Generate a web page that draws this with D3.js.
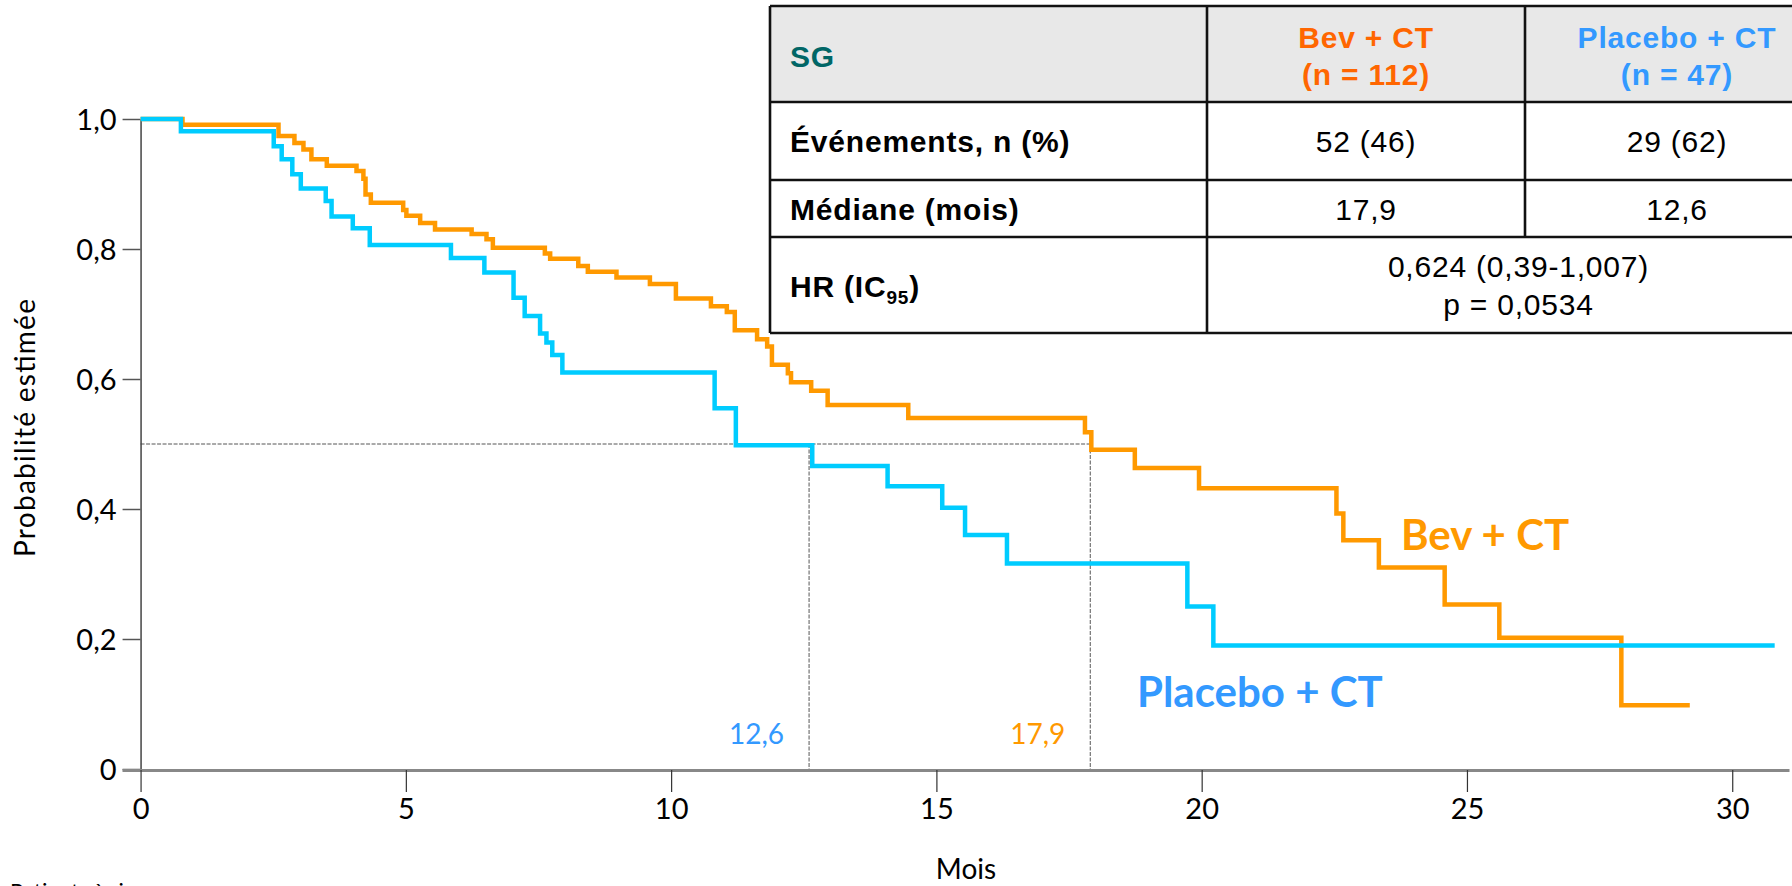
<!DOCTYPE html>
<html>
<head>
<meta charset="utf-8">
<script src="https://cdn.jsdelivr.net/npm/d3@7"></script>
<style>
  html, body { margin: 0; padding: 0; background: #fff; }
  svg { display: block; }
  .tick text { font-family: Lato, "Open Sans", sans-serif; font-size: 29px; fill: #000; }
  .tbl text { font-family: "Liberation Sans", Arial, sans-serif; font-size: 30px; letter-spacing: 0.8px; }
</style>
</head>
<body>
<svg id="chart" width="1792" height="886"></svg>
<script>
// Kaplan-Meier steps (time in months, survival probability)
const bevTimes = [0, 0.79, 2.60, 2.90, 3.07, 3.22, 3.51, 4.07, 4.20, 4.24, 4.34, 4.95, 5.01, 5.27, 5.55,
  6.24, 6.52, 6.64, 7.62, 7.72, 8.25, 8.43, 8.97, 9.60, 10.09, 10.75, 11.05, 11.20, 11.62, 11.81,
  11.90, 12.20, 12.26, 12.64, 12.95, 14.47, 17.80, 17.92, 18.74, 19.95, 22.54, 22.67, 23.34, 24.58,
  25.61, 27.91, 29.20];
const bevSurv = [1.0, 0.991, 0.974, 0.963, 0.953, 0.938, 0.928, 0.920, 0.908, 0.884, 0.871, 0.860, 0.851, 0.840, 0.830,
  0.823, 0.815, 0.802, 0.793, 0.785, 0.774, 0.765, 0.756, 0.746, 0.724, 0.712, 0.703, 0.675, 0.661, 0.650,
  0.622, 0.609, 0.595, 0.582, 0.560, 0.540, 0.518, 0.491, 0.463, 0.432, 0.393, 0.352, 0.310, 0.253,
  0.202, 0.098, 0.098];

const pboTimes = [0, 0.76, 2.51, 2.66, 2.86, 3.02, 3.49, 3.60, 4.00, 4.32, 5.85, 6.48, 7.03, 7.24, 7.53,
  7.65, 7.76, 7.95, 10.82, 11.22, 12.66, 14.08, 15.11, 15.54, 16.33, 19.73, 20.22, 30.80];
const pboSurv = [1.0, 0.981, 0.958, 0.938, 0.915, 0.893, 0.874, 0.850, 0.832, 0.806, 0.786, 0.764, 0.725, 0.697, 0.670,
  0.656, 0.637, 0.610, 0.555, 0.498, 0.466, 0.435, 0.402, 0.360, 0.316, 0.250, 0.190, 0.190];

const xTicks = [0, 5, 10, 15, 20, 25, 30];
const yTicks = [0, 0.2, 0.4, 0.6, 0.8, 1.0];
const medians = [12.6, 17.9];          // placebo, bev
const medianLabels = ["12,6", "17,9"];

const groupNames = ["Bev + CT", "Placebo + CT"];
const groupN = ["(n = 112)", "(n = 47)"];
const rowLabels = ["Événements, n (%)", "Médiane (mois)"];
const eventsCol = ["52 (46)", "29 (62)"];
const medianCol = ["17,9", "12,6"];
const hrLines = ["0,624 (0,39-1,007)", "p = 0,0534"];

const ORANGE = '#ff9900';
const CYAN = '#00ccff';
const LBLUE = '#3399ff';
const HEAD_ORANGE = '#ff6600';

const svg = d3.select('#chart');
svg.append('rect').attr('width', 1792).attr('height', 886).attr('fill', '#fff');

const x = d3.scaleLinear().domain([-0.35, 31.07]).range([122, 1789]);
const y = d3.scaleLinear().domain([0, 1]).range([769, 119]);

const fmt = d => d === 0 ? '0' : d.toFixed(1).replace('.', ',');

// median guide lines
const guides = svg.append('g').attr('stroke', '#555').attr('stroke-width', 1).attr('stroke-dasharray', '4,1.5').attr('fill', 'none');
guides.append('line')
  .attr('x1', x(0)).attr('x2', x(d3.max(medians)))
  .attr('y1', y(0.5)).attr('y2', y(0.5));
guides.selectAll('line.v').data(medians).join('line')
  .attr('class', 'v')
  .attr('x1', d => x(d)).attr('x2', d => x(d))
  .attr('y1', y(0.5)).attr('y2', y(0));

svg.append('g').selectAll('text').data(medians).join('text')
  .attr('x', d => x(d) - 25).attr('y', 744)
  .attr('text-anchor', 'end')
  .attr('font-family', 'Lato, "Open Sans", sans-serif')
  .attr('font-size', 28)
  .attr('fill', (d, i) => i === 0 ? LBLUE : ORANGE)
  .text((d, i) => medianLabels[i]);

// y axis
const yAxis = svg.append('g')
  .attr('transform', `translate(${x(0)},0)`)
  .call(d3.axisLeft(y).tickValues(yTicks).tickFormat(fmt).tickSize(18).tickPadding(6).tickSizeOuter(0));
yAxis.select('.domain').attr('stroke', '#444').attr('stroke-width', 1.5);
yAxis.selectAll('.tick line').attr('stroke', '#555').attr('stroke-width', 1.5);
yAxis.selectAll('.tick text').attr('dy', '0.36em');

// x axis
const xAxis = svg.append('g')
  .attr('transform', `translate(0,${y(0) + 1})`)
  .call(d3.axisBottom(x).tickValues(xTicks).tickSize(22).tickPadding(6).tickSizeOuter(0));
xAxis.select('.domain').attr('stroke', '#888').attr('stroke-width', 3);
xAxis.selectAll('.tick line').attr('stroke', '#333').attr('stroke-width', 1.2);

svg.append('text')
  .attr('x', 966).attr('y', 879)
  .attr('text-anchor', 'middle')
  .attr('font-family', 'Lato, "Open Sans", sans-serif')
  .attr('font-size', 28)
  .text('Mois');

svg.append('text')
  .attr('transform', 'translate(35,428) rotate(-90)')
  .attr('text-anchor', 'middle')
  .attr('font-family', 'Lato, "Open Sans", sans-serif')
  .attr('font-size', 28)
  .attr('textLength', 258)
  .attr('lengthAdjust', 'spacing')
  .text('Probabilité estimée');

svg.append('text')
  .attr('x', 10).attr('y', 899)
  .attr('font-family', 'Lato, "Open Sans", sans-serif')
  .attr('font-size', 22)
  .text('Patients à risque');

// KM curves
const km = d3.line()
  .x(d => x(d[0]))
  .y(d => y(d[1]))
  .curve(d3.curveStepAfter);

svg.append('path')
  .datum(d3.zip(bevTimes, bevSurv))
  .attr('fill', 'none').attr('stroke', ORANGE).attr('stroke-width', 4.5)
  .attr('d', km);
svg.append('path')
  .datum(d3.zip(pboTimes, pboSurv))
  .attr('fill', 'none').attr('stroke', CYAN).attr('stroke-width', 4.5)
  .attr('d', km);

// curve labels
svg.append('text')
  .attr('x', 1401).attr('y', 550)
  .attr('font-family', 'Lato, "Open Sans", sans-serif')
  .attr('font-weight', 'bold').attr('font-size', 42)
  .attr('fill', ORANGE)
  .text(groupNames[0]);
svg.append('text')
  .attr('x', 1137).attr('y', 707)
  .attr('font-family', 'Lato, "Open Sans", sans-serif')
  .attr('font-weight', 'bold').attr('font-size', 42)
  .attr('fill', LBLUE)
  .text(groupNames[1]);

// summary table
const colX = [770, 1207, 1525, 1830];
const rowY = [6, 102, 180, 237, 333];
const tbl = svg.append('g').attr('class', 'tbl');

tbl.append('rect')
  .attr('x', colX[0]).attr('y', rowY[0])
  .attr('width', colX[3] - colX[0]).attr('height', rowY[4] - rowY[0])
  .attr('fill', '#fff');
tbl.append('rect')
  .attr('x', colX[0]).attr('y', rowY[0])
  .attr('width', colX[3] - colX[0]).attr('height', rowY[1] - rowY[0])
  .attr('fill', '#e8e8e8');

const lines = tbl.append('g').attr('stroke', '#111').attr('stroke-width', 2.6);
rowY.forEach(ry => lines.append('line').attr('x1', colX[0]).attr('x2', colX[3]).attr('y1', ry).attr('y2', ry));
lines.append('line').attr('x1', colX[0]).attr('x2', colX[0]).attr('y1', rowY[0]).attr('y2', rowY[4]);
lines.append('line').attr('x1', colX[1]).attr('x2', colX[1]).attr('y1', rowY[0]).attr('y2', rowY[4]);
lines.append('line').attr('x1', colX[2]).attr('x2', colX[2]).attr('y1', rowY[0]).attr('y2', rowY[3]);

const cx = [(colX[1] + colX[2]) / 2, 1677];
const headColors = [HEAD_ORANGE, LBLUE];

tbl.append('text').attr('x', 790).attr('y', 67)
  .attr('font-weight', 'bold').attr('fill', '#006666').text('SG');

groupNames.forEach((g, i) => {
  tbl.append('text').attr('x', cx[i]).attr('y', 48).attr('text-anchor', 'middle')
    .attr('font-weight', 'bold').attr('fill', headColors[i]).text(g);
  tbl.append('text').attr('x', cx[i]).attr('y', 85).attr('text-anchor', 'middle')
    .attr('font-weight', 'bold').attr('fill', headColors[i]).text(groupN[i]);
});

const rowBase = [152, 220];
rowLabels.forEach((r, i) => {
  tbl.append('text').attr('x', 790).attr('y', rowBase[i])
    .attr('font-weight', 'bold').attr('fill', '#000').text(r);
});
eventsCol.forEach((v, i) => {
  tbl.append('text').attr('x', cx[i]).attr('y', rowBase[0]).attr('text-anchor', 'middle').attr('fill', '#000').text(v);
});
medianCol.forEach((v, i) => {
  tbl.append('text').attr('x', cx[i]).attr('y', rowBase[1]).attr('text-anchor', 'middle').attr('fill', '#000').text(v);
});

const hr = tbl.append('text').attr('x', 790).attr('y', 297).attr('font-weight', 'bold').attr('fill', '#000');
hr.append('tspan').text('HR (IC');
hr.append('tspan').attr('font-size', 19).attr('dy', 7).text('95');
hr.append('tspan').attr('dy', -7).text(')');

const hrX = (colX[1] + colX[3]) / 2;
tbl.append('text').attr('x', hrX).attr('y', 277).attr('text-anchor', 'middle').attr('fill', '#000').text(hrLines[0]);
tbl.append('text').attr('x', hrX).attr('y', 315).attr('text-anchor', 'middle').attr('fill', '#000').text(hrLines[1]);
</script>
</body>
</html>
